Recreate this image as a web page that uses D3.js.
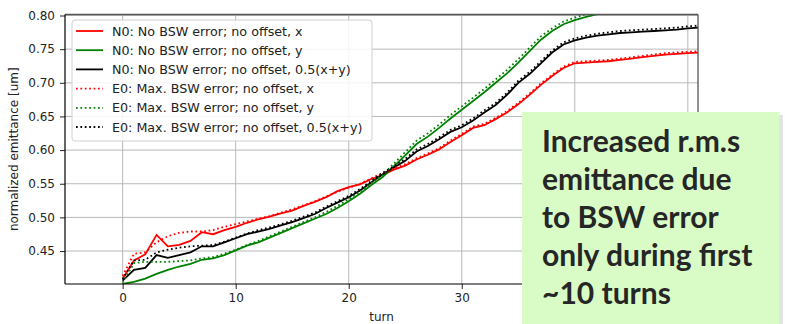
<!DOCTYPE html>
<html><head><meta charset="utf-8">
<script src="https://cdn.jsdelivr.net/npm/d3@7"></script>
<style>body{margin:0;background:#fff;}svg{display:block;}</style>
</head><body>
<svg id="c" width="785" height="324"></svg>
<script>
const turns = d3.range(0, 52);
const n0x = [0.409,0.436,0.445,0.474,0.457,0.459,0.465,0.478,0.475,0.481,0.486,0.492,0.497,0.501,0.506,0.510,0.517,0.523,0.530,0.539,0.545,0.549,0.557,0.563,0.571,0.577,0.586,0.593,0.601,0.612,0.622,0.633,0.637,0.646,0.656,0.668,0.682,0.697,0.710,0.722,0.729,0.730,0.731,0.732,0.734,0.736,0.738,0.740,0.742,0.743,0.744,0.745];
const n0y = [0.401,0.404,0.409,0.416,0.422,0.427,0.431,0.437,0.439,0.444,0.451,0.458,0.463,0.470,0.477,0.484,0.491,0.498,0.505,0.514,0.524,0.535,0.548,0.560,0.576,0.592,0.609,0.620,0.633,0.647,0.660,0.673,0.686,0.700,0.714,0.730,0.747,0.764,0.777,0.787,0.793,0.798,0.802,0.804,0.806,0.807,0.808,0.809,0.810,0.811,0.812,0.812];
const n0a = [0.406,0.422,0.425,0.444,0.440,0.444,0.448,0.457,0.457,0.463,0.469,0.475,0.479,0.483,0.488,0.493,0.499,0.505,0.514,0.522,0.530,0.540,0.552,0.564,0.574,0.584,0.598,0.606,0.616,0.627,0.634,0.644,0.656,0.667,0.682,0.700,0.713,0.729,0.745,0.757,0.763,0.767,0.770,0.772,0.774,0.775,0.776,0.777,0.778,0.779,0.781,0.782];
const e0x = [0.413,0.446,0.448,0.463,0.472,0.477,0.479,0.479,0.481,0.486,0.490,0.494,0.498,0.502,0.507,0.512,0.518,0.524,0.531,0.538,0.544,0.550,0.558,0.566,0.573,0.579,0.588,0.595,0.603,0.614,0.624,0.635,0.639,0.648,0.658,0.670,0.684,0.699,0.712,0.724,0.731,0.732,0.733,0.734,0.736,0.738,0.740,0.742,0.744,0.745,0.746,0.747];
const e0y = [0.403,0.432,0.434,0.434,0.434,0.435,0.436,0.439,0.441,0.446,0.452,0.459,0.465,0.472,0.479,0.486,0.493,0.500,0.508,0.517,0.527,0.538,0.551,0.563,0.580,0.597,0.614,0.625,0.638,0.652,0.665,0.678,0.691,0.705,0.719,0.735,0.752,0.769,0.781,0.791,0.797,0.802,0.806,0.808,0.810,0.811,0.812,0.813,0.814,0.815,0.816,0.816];
const e0a = [0.408,0.436,0.437,0.448,0.452,0.455,0.457,0.458,0.459,0.464,0.470,0.476,0.481,0.485,0.490,0.495,0.501,0.507,0.516,0.524,0.532,0.542,0.554,0.566,0.576,0.587,0.601,0.609,0.619,0.630,0.637,0.647,0.659,0.670,0.685,0.703,0.716,0.732,0.748,0.760,0.766,0.770,0.773,0.775,0.777,0.778,0.779,0.780,0.781,0.782,0.784,0.785];
const xTicks = [0, 10, 20, 30, 40, 50];
const xTickLabels = ["0", "10", "20", "30", "", ""];
const yTicks = [0.45, 0.50, 0.55, 0.60, 0.65, 0.70, 0.75, 0.80];
const seriesNames = ["N0: No BSW error; no offset, x","N0: No BSW error; no offset, y","N0: No BSW error; no offset, 0.5(x+y)","E0: Max. BSW error; no offset, x","E0: Max. BSW error; no offset, y","E0: Max. BSW error; no offset, 0.5(x+y)"];
const noteLines = ["Increased r.m.s","emittance due","to BSW error","only during first","~10 turns"];

const series = [
  {name: seriesNames[0], v: n0x, color: "#ff0000", dash: null},
  {name: seriesNames[1], v: n0y, color: "#008000", dash: null},
  {name: seriesNames[2], v: n0a, color: "#000000", dash: null},
  {name: seriesNames[3], v: e0x, color: "#ff0000", dash: "1.7,2.7"},
  {name: seriesNames[4], v: e0y, color: "#008000", dash: "1.7,2.7"},
  {name: seriesNames[5], v: e0a, color: "#000000", dash: "1.7,2.7"}
];

const svg = d3.select("#c");
const L = 65, R = 698, T = 14.5, B = 284;
const x = d3.scaleLinear().domain([-5.1, 50.9]).range([L, R]);
const y = d3.scaleLinear().domain([0.401, 0.8015]).range([B, T]);
const font = "DejaVu Sans, sans-serif";

svg.append("defs").append("clipPath").attr("id","clip")
  .append("rect").attr("x",L).attr("y",T).attr("width",R-L).attr("height",B-T);

// grid
const grid = svg.append("g").attr("stroke","#b9b9b9").attr("stroke-width",1);
xTicks.forEach(t => grid.append("line").attr("x1",x(t)).attr("x2",x(t)).attr("y1",T).attr("y2",B));
yTicks.forEach(t => grid.append("line").attr("x1",L).attr("x2",R).attr("y1",y(t)).attr("y2",y(t)));

// lines
const line = d3.line().x((d,i)=>x(turns[i])).y(d=>y(d));
const lg = svg.append("g").attr("clip-path","url(#clip)");
series.forEach(s => {
  lg.append("path").attr("d", line(s.v)).attr("fill","none")
    .attr("stroke", s.color).attr("stroke-width", 1.8)
    .attr("stroke-dasharray", s.dash);
});

// frame
svg.append("line").attr("x1",L).attr("x2",R).attr("y1",T).attr("y2",T).attr("stroke","#555").attr("stroke-width",1.3);
svg.append("line").attr("x1",R).attr("x2",R).attr("y1",T).attr("y2",B).attr("stroke","#555").attr("stroke-width",1.3);

// axes
const xAxis = d3.axisBottom(x).tickValues(xTicks).tickSize(5).tickPadding(4)
  .tickFormat((d,i)=>xTickLabels[i]);
const gx = svg.append("g").attr("transform",`translate(0,${B})`).call(xAxis);
const yAxis = d3.axisLeft(y).tickValues(yTicks).tickSize(5).tickPadding(5).tickFormat(d3.format(".2f"));
const gy = svg.append("g").attr("transform",`translate(${L},0)`).call(yAxis);
[gx, gy].forEach(g => {
  g.select(".domain").remove();
  g.selectAll("text").attr("font-family",font).attr("font-size",12).attr("fill","#222");
  g.selectAll("line").attr("stroke","#222");
});
svg.append("line").attr("x1",L).attr("x2",R).attr("y1",B).attr("y2",B).attr("stroke","#000").attr("stroke-width",1.2);
svg.append("line").attr("x1",L).attr("x2",L).attr("y1",T).attr("y2",B).attr("stroke","#000").attr("stroke-width",1.2);

svg.append("text").attr("x",(L+R)/2).attr("y",321).attr("text-anchor","middle")
  .attr("font-family",font).attr("font-size",12).attr("fill","#222").text("turn");
svg.append("text").attr("transform",`translate(18,${(T+B)/2}) rotate(-90)`).attr("text-anchor","middle")
  .attr("font-family",font).attr("font-size",12).attr("fill","#222").text("normalized emittance [um]");

// legend
const leg = svg.append("g");
leg.append("rect").attr("x",72).attr("y",20).attr("width",300).attr("height",121).attr("rx",3)
  .attr("fill","#fff").attr("fill-opacity",0.85).attr("stroke","#d0d0d0");
series.forEach((s,i) => {
  const yy = 31 + i*19.2;
  leg.append("line").attr("x1",76).attr("x2",103).attr("y1",yy).attr("y2",yy)
    .attr("stroke",s.color).attr("stroke-width",1.8).attr("stroke-dasharray",s.dash);
  leg.append("text").attr("x",112).attr("y",yy+4.5).attr("font-family",font).attr("font-size",12.7)
    .attr("fill","#222").text(s.name);
});

// note box
svg.append("rect").attr("x",525).attr("y",115).attr("width",258).attr("height",215).attr("fill","#c8c8c8").attr("opacity",0.5);
svg.append("rect").attr("x",522).attr("y",112).attr("width",257).attr("height",215).attr("fill","#d9fcc6");
noteLines.forEach((t,i) => {
  svg.append("text").attr("x",542).attr("y",152 + i*38).attr("font-family","Lato, sans-serif")
    .attr("font-weight","bold").attr("font-size",30).attr("fill","#262626").text(t);
});
</script>
</body></html>
